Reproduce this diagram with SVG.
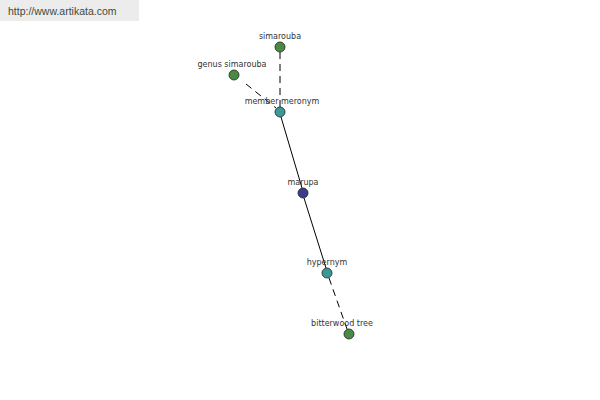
<svg xmlns="http://www.w3.org/2000/svg" width="600" height="400" viewBox="0 0 600 400">
<style>
.lbl{font-family:"DejaVu Sans","Liberation Sans",sans-serif;font-size:8px;fill:#333;text-anchor:middle}
.n{stroke:#222;stroke-width:0.8}
.green{fill:#4a8a45}
.teal{fill:#3a9a9a}
.navy{fill:#3c3c8c}
.e{stroke:#000;stroke-width:1;fill:none}
.d{stroke-dasharray:7,5}
</style>
<rect width="600" height="400" fill="#fff"/>
<rect x="0" y="0" width="139" height="21" fill="#ececec"/>
<text x="8" y="15" font-family="Liberation Sans, Arial, sans-serif" font-size="10.5" fill="#3f4a3f">http://www.artikata.com</text>
<g id="connectors">
<line class="e d" x1="280" y1="52" x2="280" y2="107"/>
<line class="e d" x1="246" y1="84" x2="276" y2="108"/>
<line class="e" x1="281" y1="117" x2="302" y2="188"/>
<line class="e" x1="304" y1="198" x2="326" y2="268"/>
<line class="e d" x1="329" y1="278" x2="347" y2="329"/>
</g>
<g id="simarouba"><circle class="n green" cx="280" cy="47" r="5"/><text class="lbl" x="280" y="39">simarouba</text></g>
<g id="genus-simarouba"><circle class="n green" cx="234" cy="75" r="5"/><text class="lbl" x="232" y="67">genus simarouba</text></g>
<g id="member-meronym"><circle class="n teal" cx="280" cy="112" r="5"/><text class="lbl" x="282" y="104">member meronym</text></g>
<g id="marupa"><circle class="n navy" cx="303" cy="193" r="5"/><text class="lbl" x="303" y="185">marupa</text></g>
<g id="hypernym"><circle class="n teal" cx="327" cy="273" r="5"/><text class="lbl" x="327" y="265">hypernym</text></g>
<g id="bitterwood-tree"><circle class="n green" cx="349" cy="334" r="5"/><text class="lbl" x="342" y="326">bitterwood tree</text></g>
</svg>
